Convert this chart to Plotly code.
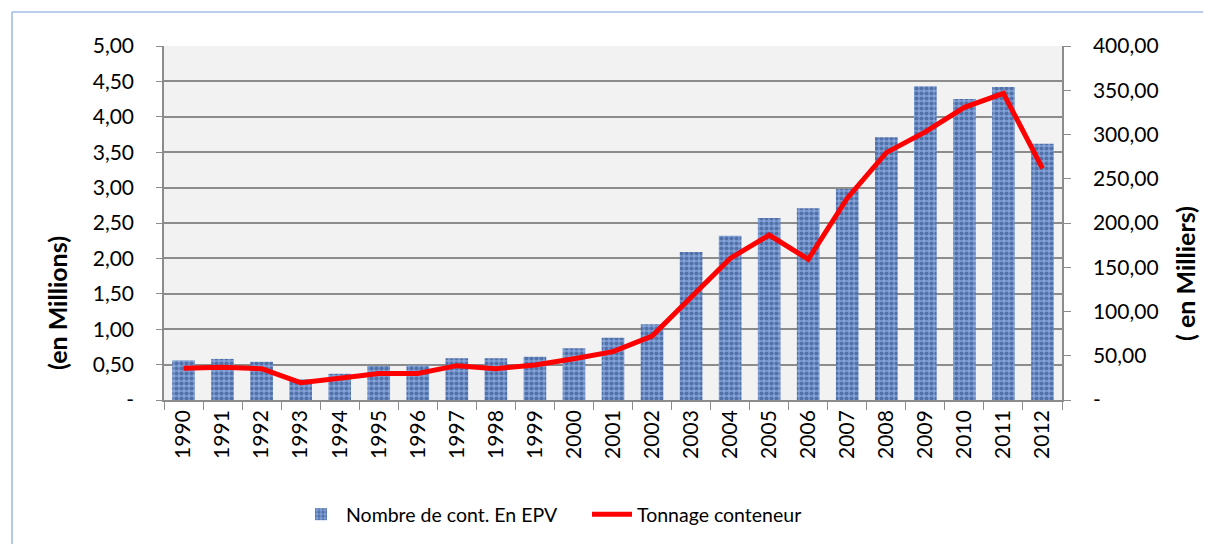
import plotly.graph_objects as go

years = [str(y) for y in range(1990, 2013)]
nombre_epv = [0.56, 0.58, 0.54, 0.29, 0.37, 0.48, 0.49, 0.59, 0.59, 0.61, 0.73,
              0.88, 1.07, 2.09, 2.32, 2.57, 2.71, 2.98, 3.71, 4.43, 4.25, 4.42, 3.62]
tonnage = [35.8, 37.0, 35.4, 19.6, 24.5, 30.0, 30.0, 38.8, 35.4, 39.5, 46.7,
           54.6, 72.3, 116.0, 160.0, 186.4, 159.0, 228.0, 279.5, 303.0, 330.7, 346.5, 261.8]

left_vals = [0, 0.5, 1, 1.5, 2, 2.5, 3, 3.5, 4, 4.5, 5]
left_text = ["-", "0,50", "1,00", "1,50", "2,00", "2,50", "3,00", "3,50", "4,00", "4,50", "5,00"]
right_vals = [0, 50, 100, 150, 200, 250, 300, 350, 400]
right_text = ["-", "50,00", "100,00", "150,00", "200,00", "250,00", "300,00", "350,00", "400,00"]

FONT = "Lato, 'Open Sans', sans-serif"

fig = go.Figure()
fig.add_trace(go.Bar(
    x=years, y=nombre_epv, name="Nombre de cont. En EPV",
    marker=dict(color="#82A2D8", line=dict(width=0),
                pattern=dict(shape=".", fgcolor="#22407A", bgcolor="#82A2D8",
                             size=5, solidity=0.55, fillmode="overlay")),
    width=0.58, yaxis="y",
))
fig.add_trace(go.Scatter(
    x=years, y=tonnage, name="Tonnage conteneur", mode="lines",
    line=dict(color="#FF0000", width=5), yaxis="y2",
))

fig.update_layout(
    width=1203, height=536,
    margin=dict(l=156, r=149, t=38, b=144, autoexpand=False),
    paper_bgcolor="white", plot_bgcolor="#F2F2F2",
    font=dict(family=FONT, size=21, color="#000000"),
    bargap=0.42,
    xaxis=dict(type="category", tickangle=-90, tickson="boundaries",
               ticks="outside", ticklen=8, tickcolor="#8C8C8C",
               showline=True, linecolor="#8C8C8C", linewidth=1.5,
               showgrid=False, tickfont=dict(size=21), automargin=False),
    yaxis=dict(range=[0, 5], tickvals=left_vals, ticktext=left_text,
               showgrid=True, gridcolor="#8C8C8C", gridwidth=1.5,
               showline=True, linecolor="#8C8C8C", linewidth=1.5,
               ticks="outside", ticklen=6, tickcolor="#8C8C8C",
               ticklabelstandoff=18,
               zeroline=False, tickfont=dict(size=21), automargin=False),
    yaxis2=dict(range=[0, 400], tickvals=right_vals, ticktext=right_text,
                overlaying="y", side="right", showgrid=False,
                showline=True, linecolor="#8C8C8C", linewidth=1.5,
                ticks="outside", ticklen=7, tickcolor="#8C8C8C",
                ticklabelstandoff=18,
                zeroline=False, tickfont=dict(size=21), automargin=False),
    legend=dict(orientation="h", x=(296 - 164) / 898, xanchor="left",
                y=(400 - 495) / 354, yanchor="top",
                font=dict(size=19.5), itemwidth=40, entrywidth=236,
                bgcolor="rgba(0,0,0,0)"),
    showlegend=True,
)

fig.add_annotation(text="<b>(en Millions)</b>", xref="paper", yref="paper",
                   x=(57 - 164) / 898, y=(400 - 303) / 354, textangle=-90,
                   showarrow=False, font=dict(size=25), xanchor="center", yanchor="middle")
fig.add_annotation(text="<b>( en Milliers)</b>", xref="paper", yref="paper",
                   x=(1185 - 164) / 898, y=(400 - 274) / 354, textangle=-90,
                   showarrow=False, font=dict(size=25), xanchor="center", yanchor="middle")

# light blue frame (left and top edges)
fig.add_shape(type="line", xref="paper", yref="paper",
              x0=(12 - 164) / 898, x1=(12 - 164) / 898, y0=(400 - 12) / 354, y1=(400 - 560) / 354,
              line=dict(color="#B4C8EC", width=2))
fig.add_shape(type="line", xref="paper", yref="paper",
              x0=(12 - 164) / 898, x1=(1220 - 164) / 898, y0=(400 - 12) / 354, y1=(400 - 12) / 354,
              line=dict(color="#A4BCE8", width=1.5))

fig.write_html("out.html")
